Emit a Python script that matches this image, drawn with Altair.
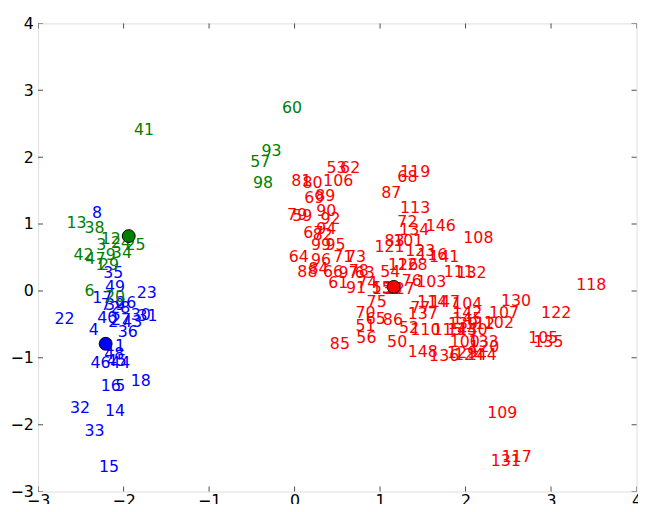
import altair as alt
import pandas as pd

# ---- label data (index labels placed at their 2-D coordinates) ----
red_labels = [53, 62, 81, 80, 106, 69, 89, 90, 79, 59, 92, 94, 67, 82, 99, 95, 64, 96, 71, 73,
              88, 84, 66, 97, 78, 63, 61, 91, 74, 55, 138, 127, 75, 70, 65, 86, 51, 52, 56, 85,
              50, 121, 83, 101, 72, 134, 113, 146, 108, 119, 68, 87, 123, 116, 141, 54, 126, 128,
              76, 103, 111, 132, 77, 114, 147, 137, 104, 130, 107, 142, 145, 102, 139, 112, 110,
              115, 143, 140, 100, 133, 120, 148, 136, 129, 124, 144, 118, 122, 105, 135, 109, 117, 131]
red_x = [0.49, 0.65, 0.08, 0.21, 0.51, 0.23, 0.36, 0.37, 0.03, 0.09, 0.42, 0.37, 0.22, 0.33, 0.31, 0.48, 0.05, 0.31, 0.57, 0.72,
         0.15, 0.28, 0.45, 0.63, 0.75, 0.82, 0.51, 0.72, 0.85, 1.02, 1.08, 1.23, 0.96, 0.83, 0.95, 1.15, 0.83, 1.34, 0.84, 0.53,
         1.20, 1.11, 1.17, 1.33, 1.32, 1.40, 1.41, 1.71, 2.15, 1.41, 1.32, 1.13, 1.47, 1.61, 1.75, 1.12, 1.27, 1.38,
         1.37, 1.60, 1.92, 2.07, 1.47, 1.61, 1.76, 1.50, 2.02, 2.59, 2.45, 2.02, 2.02, 2.39, 1.97, 2.17, 1.53,
         1.79, 1.96, 2.08, 1.99, 2.21, 2.22, 1.50, 1.75, 1.96, 2.04, 2.19, 3.47, 3.06, 2.91, 2.97, 2.43, 2.60, 2.47]
red_y = [1.84, 1.84, 1.64, 1.62, 1.64, 1.39, 1.42, 1.19, 1.13, 1.12, 1.08, 0.93, 0.87, 0.84, 0.69, 0.69, 0.50, 0.46, 0.50, 0.50,
         0.28, 0.32, 0.28, 0.26, 0.29, 0.26, 0.12, 0.04, 0.12, 0.04, 0.03, 0.03, -0.17, -0.33, -0.42, -0.43, -0.52, -0.55, -0.70, -0.79,
         -0.77, 0.66, 0.75, 0.74, 1.03, 0.91, 1.24, 0.97, 0.79, 1.78, 1.71, 1.46, 0.59, 0.53, 0.50, 0.28, 0.38, 0.39,
         0.14, 0.13, 0.28, 0.26, -0.25, -0.17, -0.17, -0.34, -0.19, -0.15, -0.33, -0.33, -0.42, -0.48, -0.49, -0.50, -0.58,
         -0.58, -0.58, -0.58, -0.77, -0.76, -0.84, -0.92, -0.98, -0.93, -0.96, -0.96, 0.09, -0.33, -0.71, -0.76, -1.83, -2.48, -2.54]

green_labels = [41, 60, 93, 57, 98, 13, 38, 12, 24, 25, 3, 9, 34, 42, 47, 1, 29, 6, 20]
green_x = [-1.76, -0.03, -0.27, -0.40, -0.37, -2.55, -2.34, -2.15, -2.03, -1.86, -2.26, -2.15, -2.02, -2.47, -2.33, -2.27, -2.17, -2.40, -2.10]
green_y = [2.40, 2.73, 2.09, 1.92, 1.62, 1.02, 0.94, 0.78, 0.72, 0.68, 0.68, 0.54, 0.56, 0.53, 0.47, 0.38, 0.39, 0.00, -0.09]

blue_labels = [8, 35, 49, 23, 17, 7, 39, 28, 26, 40, 2, 27, 43, 30, 31, 22, 4, 36, 11, 48, 45, 46, 44,
               16, 5, 18, 32, 14, 33, 15]
blue_x = [-2.31, -2.12, -2.10, -1.73, -2.25, -2.21, -2.10, -2.04, -1.97, -2.19, -2.12, -2.03, -1.90, -1.80, -1.72, -2.69, -2.35, -1.95, -2.10, -2.11, -2.08, -2.27, -2.04,
          -2.15, -2.04, -1.80, -2.51, -2.10, -2.34, -2.17]
blue_y = [1.16, 0.26, 0.06, -0.03, -0.11, -0.21, -0.21, -0.25, -0.18, -0.40, -0.46, -0.43, -0.46, -0.36, -0.37, -0.42, -0.58, -0.61, -0.83, -0.95, -1.05, -1.08, -1.08,
          -1.42, -1.43, -1.35, -1.75, -1.79, -2.10, -2.63]

# cluster centres
centre_cluster = ["blue", "green", "red"]
centre_x = [-2.21, -1.94, 1.16]
centre_y = [-0.79, 0.82, 0.06]

tick_values = [-3, -2, -1, 0, 1, 2, 3, 4]

rows = []
for name, labs, xs_, ys_ in [("blue", blue_labels, blue_x, blue_y),
                             ("green", green_labels, green_x, green_y),
                             ("red", red_labels, red_x, red_y)]:
    for lab, xv, yv in zip(labs, xs_, ys_):
        rows.append({"label": str(lab), "x": xv, "y": yv, "cluster": name})
df = pd.DataFrame(rows)
cent = pd.DataFrame({"cluster": centre_cluster, "x": centre_x, "y": centre_y})
ticks = pd.DataFrame({"v": tick_values})

color_scale = alt.Scale(domain=["red", "green", "blue"], range=["#ff0000", "#008000", "#0000ff"])
xs = alt.Scale(domain=[-3, 4], nice=False, zero=False)
ys = alt.Scale(domain=[-3, 4], nice=False, zero=False)

axis_common = dict(values=tick_values, format="d", title=None, grid=False, domain=False, ticks=False,
                   labelFlush=False, labelOverlap=False,
                   labelFont="DejaVu Sans", labelFontSize=16, labelColor="black")

text = alt.Chart(df).mark_text(font="DejaVu Sans", fontSize=16, align="center", baseline="middle").encode(
    x=alt.X("x:Q", scale=xs, axis=alt.Axis(labelPadding=1, **axis_common)),
    y=alt.Y("y:Q", scale=ys, axis=alt.Axis(labelPadding=5, **axis_common)),
    text="label:N",
    color=alt.Color("cluster:N", scale=color_scale, legend=None),
)

centres = alt.Chart(cent).mark_point(filled=True, shape="circle", size=170, stroke="black",
                                     strokeWidth=1, opacity=1).encode(
    x=alt.X("x:Q", scale=xs),
    y=alt.Y("y:Q", scale=ys),
    fill=alt.Fill("cluster:N", scale=color_scale, legend=None),
)

def xtick(at):
    return alt.Chart(ticks).mark_tick(orient="vertical", size=10, thickness=1, color="black", clip=True).encode(
        x=alt.X("v:Q", scale=xs), y=alt.datum(at))

def ytick(at):
    return alt.Chart(ticks).mark_tick(orient="horizontal", size=10, thickness=1, color="black", clip=True).encode(
        y=alt.Y("v:Q", scale=ys), x=alt.datum(at))

chart = alt.layer(text, xtick(4), xtick(-3), ytick(-3), ytick(4), centres).properties(
    width=606, height=474,
    autosize=alt.AutoSizeParams(type="none"),
    padding={"left": 30.5, "top": 12.5, "right": 1.5, "bottom": 9.5},
).configure_view(stroke="#000000", strokeWidth=1.4, strokeOpacity=1).configure(background="white")

chart.save("out.html", embed_options={"renderer": "svg", "actions": False})
